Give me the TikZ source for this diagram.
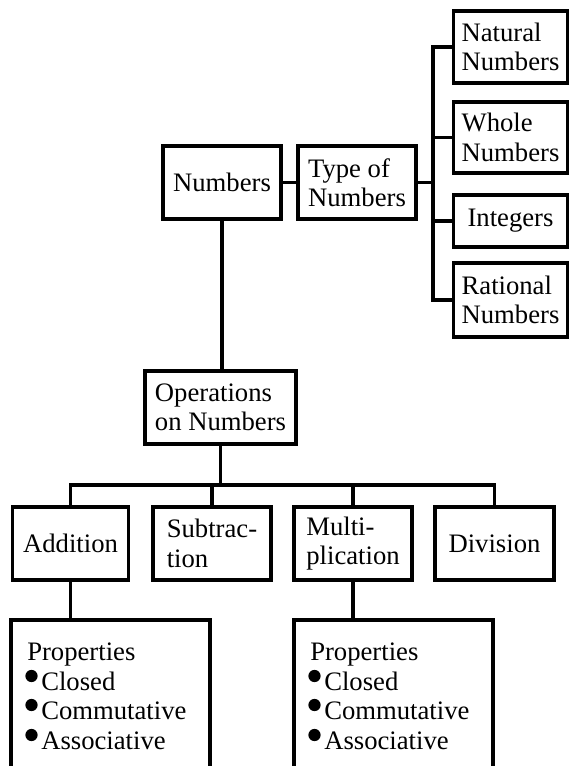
\documentclass[tikz,border=0pt]{standalone}
\usepackage{fontspec}
\setmainfont{Liberation Serif}
\begin{document}
\begin{tikzpicture}[x=0.75pt,y=-0.75pt,
  box/.style={draw, line width=2.4pt, inner sep=0pt, align=left, font=\fontsize{20}{22}\selectfont},
  w/.style={minimum width=#1*0.75pt},
  h/.style={minimum height=#1*0.75pt},
  conn/.style={line width=2.5pt},
  txt/.style={anchor=base west, inner sep=0pt, font=\fontsize{20}{22}\selectfont},
  bul/.style={fill=black}]
\clip (0,0) rectangle (569,766);
\fill[white] (0,0) rectangle (569,766);

% top part
\node[box, w=118, h=73] (num) at (222,182.5) {Numbers};
\node[box, w=118, h=73] (type) at (357,182.5) {Type of\\Numbers};
\node[box, w=114, h=72] (nat) at (510.5,47) {Natural\\Numbers};
\node[box, w=114, h=71] (whole) at (510.5,137.5) {Whole\\Numbers};
\node[box, w=114, h=52] (int) at (510.5,221) {Integers};
\node[box, w=114, h=74] (rat) at (510.5,300) {Rational\\Numbers};

\coordinate (rb) at (433,182.5);
\draw[conn] (num.east) -- (type.west);
\draw[conn] (type.east) -- (rb);
\draw[conn] (nat.west) -- (nat.west -| rb) -- (rat.west -| rb) -- (rat.west);
\draw[conn] (whole.west) -- (whole.west -| rb);
\draw[conn] (int.west) -- (int.west -| rb);

% operations
\node[box, w=151, h=73] (ops) at (220.5,407.5) {Operations\\on Numbers};
\draw[conn] (num.south) -- (num.south |- ops.north);

\node[box, w=116, h=73] (add) at (70.5,543.5) {Addition};
\node[box, w=118, h=73] (sub) at (212,543.5) {Subtrac-\\tion};
\node[box, w=118, h=73] (mul) at (353,543.5) {Multi-\\plication};
\node[box, w=119, h=73] (div) at (494.5,543.5) {Division};

\coordinate (bus) at (220.5,485);
\draw[conn] (ops.south) -- (ops.south |- bus);
\draw[conn] (add.north) -- (add.north |- bus) -- (div.north |- bus) -- (div.north);
\draw[conn] (sub.north) -- (sub.north |- bus);
\draw[conn] (mul.north) -- (mul.north |- bus);

% properties boxes (cut by the bottom edge)
\node[box, w=199, h=180] (propA) at (110.5,710) {};
\node[box, w=199, h=180] (propB) at (393.5,710) {};
\draw[conn] (add.south) -- (add.south |- propA.north);
\draw[conn] (mul.south) -- (mul.south |- propB.north);

\node[txt] (pa0) at (27,660) {Properties};
\node[txt] (pa1) at (41,690) {Closed};
\node[txt] (pa2) at (41,719) {Commutative};
\node[txt] (pa3) at (41,749) {Associative};
\fill[bul] (31.5,676) circle (4.6pt);
\fill[bul] (31.5,705) circle (4.6pt);
\fill[bul] (31.5,735) circle (4.6pt);

\node[txt] (pb0) at (310,660) {Properties};
\node[txt] (pb1) at (324,690) {Closed};
\node[txt] (pb2) at (324,719) {Commutative};
\node[txt] (pb3) at (324,749) {Associative};
\fill[bul] (314.5,676) circle (4.6pt);
\fill[bul] (314.5,705) circle (4.6pt);
\fill[bul] (314.5,735) circle (4.6pt);
\end{tikzpicture}
\end{document}
